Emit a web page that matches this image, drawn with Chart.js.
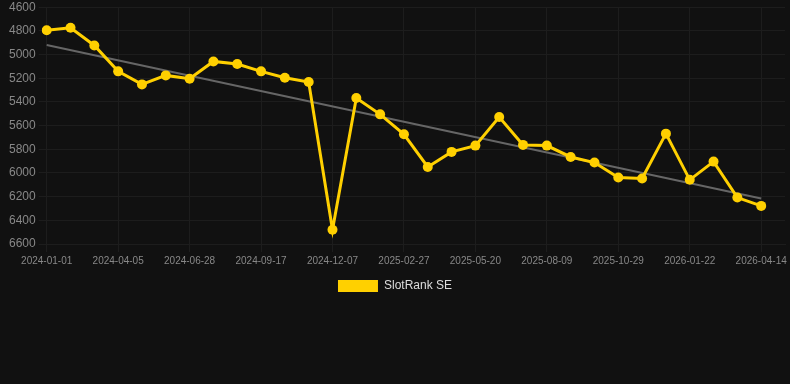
<!DOCTYPE html>
<html>
<head>
<meta charset="utf-8">
<script src="https://cdn.jsdelivr.net/npm/chart.js@4"></script>
<style>
    html, body { margin: 0; padding: 0; background: #111111; }
    #wrap { width: 790px; height: 302px; }
</style>
</head>
<body>
<div id="wrap"><canvas id="rank-chart"></canvas></div>
<script>
// Data
const dates = [
    '2024-01-01', '2024-02-02', '2024-03-05', '2024-04-05', '2024-05-03', '2024-05-31',
    '2024-06-28', '2024-07-25', '2024-08-21', '2024-09-17', '2024-10-14', '2024-11-10',
    '2024-12-07', '2025-01-03', '2025-01-31', '2025-02-27', '2025-03-26', '2025-04-23',
    '2025-05-20', '2025-06-16', '2025-07-13', '2025-08-09', '2025-09-05', '2025-10-02',
    '2025-10-29', '2025-11-26', '2025-12-24', '2026-01-22', '2026-02-18', '2026-03-18',
    '2026-04-14', ''
];
const rankValues = [
    4794, 4774, 4923, 5142, 5252, 5176, 5204, 5058, 5080, 5142, 5196, 5232,
    6480, 5367, 5505, 5673, 5949, 5822, 5769, 5527, 5763, 5769, 5865, 5912,
    6039, 6047, 5668, 6058, 5904, 6208, 6278
];
const trendStart = 4920;
const trendEnd = 6216;
const yTicks = [4600, 4800, 5000, 5200, 5400, 5600, 5800, 6000, 6200, 6400, 6600];

const trendValues = rankValues.map((v, i) =>
    i === 0 ? trendStart : (i === rankValues.length - 1 ? trendEnd : null));

const gridColor = '#1d1d1d';
const tickColor = '#888888';

const ctx = document.getElementById('rank-chart').getContext('2d');
new Chart(ctx, {
    type: 'line',
    data: {
        labels: dates,
        datasets: [{
            label: 'SlotRank SE',
            data: rankValues,
            borderColor: '#FFD000',
            backgroundColor: '#FFD000',
            borderWidth: 3,
            pointRadius: 5,
            pointHoverRadius: 5,
            pointBackgroundColor: '#FFD000',
            pointBorderWidth: 0,
            tension: 0,
            fill: false
        }, {
            label: 'trend',
            data: trendValues,
            borderColor: '#666666',
            borderWidth: 2,
            pointRadius: 0,
            spanGaps: true,
            fill: false
        }]
    },
    options: {
        responsive: true,
        maintainAspectRatio: false,
        animation: false,
        plugins: {
            legend: {
                position: 'bottom',
                labels: {
                    color: '#dddddd',
                    font: { family: 'Arial, Liberation Sans', size: 12 },
                    boxWidth: 40,
                    boxHeight: 12,
                    generateLabels: chart => {
                        const items = Chart.defaults.plugins.legend.labels.generateLabels(chart);
                        items.forEach(it => { it.lineWidth = 0; });
                        return items.filter(it => it.datasetIndex === 0);
                    }
                }
            },
            tooltip: { enabled: false }
        },
        scales: {
            x: {
                offset: false,
                grid: {
                    color: c => (c.index % 3 === 0 ? gridColor : 'transparent')
                },
                border: { color: gridColor },
                ticks: {
                    color: tickColor,
                    autoSkip: false,
                    maxRotation: 0,
                    font: { family: 'Arial, Liberation Sans', size: 10 },
                    callback: (val, i) => (i % 3 === 0 ? dates[i] : '')
                }
            },
            y: {
                reverse: true,
                min: yTicks[0],
                max: yTicks[yTicks.length - 1],
                afterFit: axis => { axis.width += 6; },
                grid: { color: gridColor },
                border: { color: gridColor },
                ticks: {
                    stepSize: yTicks[1] - yTicks[0],
                    color: tickColor,
                    font: { family: 'Arial, Liberation Sans', size: 12, lineHeight: 0.7 },
                    callback: v => String(v)
                }
            }
        }
    }
});
</script>
</body>
</html>
